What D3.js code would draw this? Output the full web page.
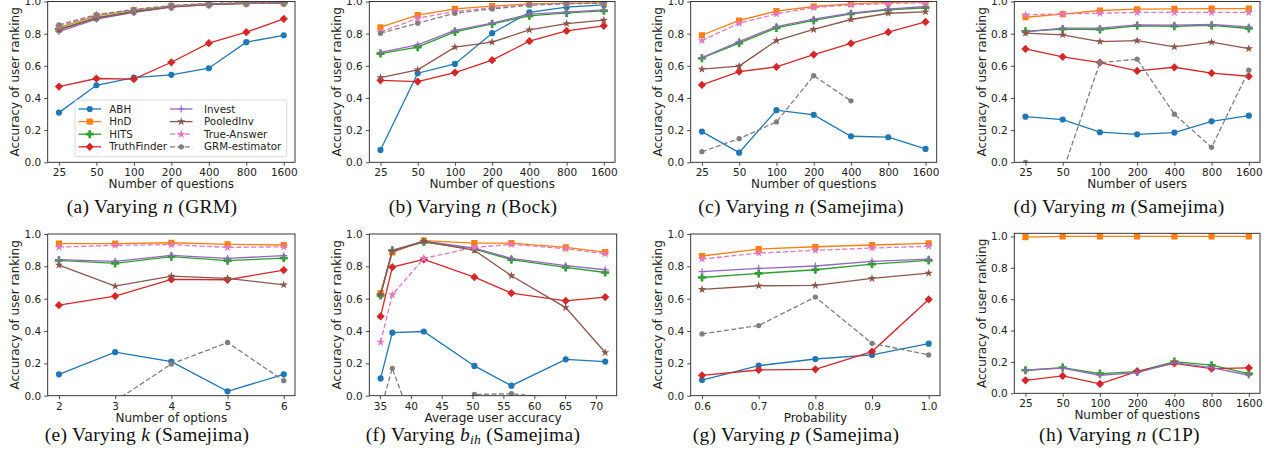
<!DOCTYPE html>
<html>
<head>
<meta charset="utf-8">
<script src="https://cdn.jsdelivr.net/npm/d3@7.9.0/dist/d3.min.js"></script>
<style>
  body { margin: 0; background: #fff; }
  svg { display: block; }
</style>
</head>
<body>
<svg id="chart" width="1276" height="461"></svg>
<script>
// methods, drawn in this order
const methods = ['ABH', 'HnD', 'HITS', 'TruthFinder', 'Invest', 'PooledInv', 'True-Answer', 'GRM-estimator'];
const methodColors = ['#1f77b4', '#ff7f0e', '#2ca02c', '#d62728', '#9467bd', '#8c564b', '#e377c2', '#7f7f7f'];

// x values / tick labels
const nTicks = ['25', '50', '100', '200', '400', '800', '1600'];
const kTicks = [2, 3, 4, 5, 6];
const biasX = [35.1, 37.0, 42.1, 50.3, 56.3, 65.1, 71.5];
const biasTicks = [35, 40, 45, 50, 55, 60, 65, 70];
const probX = [0.6, 0.7, 0.8, 0.9, 1.0];
const yTicks = [0, 0.2, 0.4, 0.6, 0.8, 1.0];

// series values, one row per method (same order as `methods`), null = not drawn
const valsGRM = [
  [0.309, 0.479, 0.527, 0.544, 0.585, 0.747, 0.790],
  [0.838, 0.911, 0.946, 0.971, 0.985, 0.990, 0.992],
  [0.828, 0.900, 0.938, 0.968, 0.982, 0.989, 0.991],
  [0.471, 0.521, 0.517, 0.622, 0.741, 0.809, 0.892],
  [0.813, 0.890, 0.932, 0.965, 0.980, 0.988, 0.990],
  [0.824, 0.897, 0.936, 0.967, 0.981, 0.989, 0.991],
  [0.845, 0.915, 0.948, 0.972, 0.986, 0.991, 0.993],
  [0.855, 0.918, 0.950, 0.975, 0.988, 0.992, 0.994]
];
const valsBock = [
  [0.077, 0.554, 0.612, 0.803, 0.932, 0.965, 0.979],
  [0.840, 0.915, 0.954, 0.971, 0.985, 0.990, 0.992],
  [0.676, 0.716, 0.811, 0.861, 0.911, 0.929, 0.942],
  [0.510, 0.502, 0.558, 0.635, 0.753, 0.817, 0.849],
  [0.683, 0.730, 0.820, 0.865, 0.921, 0.934, 0.948],
  [0.527, 0.575, 0.716, 0.747, 0.824, 0.863, 0.884],
  [0.810, 0.896, 0.938, 0.960, 0.980, 0.988, 0.990],
  [0.803, 0.865, 0.927, 0.954, 0.977, 0.986, 0.990]
];
const valsSameN = [
  [0.191, 0.060, 0.324, 0.295, 0.162, 0.156, 0.083],
  [0.790, 0.882, 0.940, 0.969, 0.985, 0.994, 0.998],
  [0.647, 0.741, 0.836, 0.882, 0.923, 0.948, 0.961],
  [0.481, 0.564, 0.593, 0.670, 0.739, 0.809, 0.873],
  [0.651, 0.751, 0.844, 0.890, 0.927, 0.952, 0.969],
  [0.579, 0.598, 0.757, 0.826, 0.888, 0.927, 0.936],
  [0.757, 0.865, 0.923, 0.963, 0.979, 0.988, 0.992],
  [0.066, 0.147, 0.251, 0.539, 0.382, null, null]
];
const valsSameM = [
  [0.284, 0.266, 0.187, 0.174, 0.185, 0.255, 0.290],
  [0.902, 0.921, 0.944, 0.952, 0.954, 0.956, 0.956],
  [0.815, 0.828, 0.826, 0.849, 0.846, 0.851, 0.832],
  [0.705, 0.656, 0.620, 0.568, 0.591, 0.554, 0.535],
  [0.811, 0.834, 0.834, 0.855, 0.853, 0.857, 0.842],
  [0.803, 0.793, 0.751, 0.757, 0.718, 0.747, 0.707],
  [0.917, 0.923, 0.927, 0.932, 0.932, 0.932, 0.932],
  [0.000, -0.060, 0.620, 0.641, 0.299, 0.093, 0.573]
];
const valsSameK = [
  [0.132, 0.269, 0.211, 0.027, 0.132],
  [0.940, 0.940, 0.946, 0.936, 0.932],
  [0.837, 0.818, 0.860, 0.835, 0.851],
  [0.560, 0.616, 0.719, 0.717, 0.777],
  [0.841, 0.831, 0.868, 0.849, 0.866],
  [0.808, 0.678, 0.740, 0.725, 0.686],
  [0.919, 0.930, 0.934, 0.917, 0.921],
  [null, -0.034, 0.196, 0.329, 0.093]
];
const valsSameB = [
  [0.107, 0.390, 0.397, 0.184, 0.062, 0.225, 0.211],
  [0.634, 0.886, 0.959, 0.944, 0.944, 0.917, 0.888],
  [0.620, 0.899, 0.950, 0.907, 0.841, 0.793, 0.762],
  [0.490, 0.795, 0.843, 0.733, 0.634, 0.587, 0.610],
  [0.628, 0.900, 0.955, 0.913, 0.849, 0.804, 0.779],
  [0.625, 0.893, 0.955, 0.899, 0.742, 0.545, 0.267],
  [0.331, 0.624, 0.849, 0.917, 0.936, 0.909, 0.878],
  [-0.087, 0.169, -0.360, 0.008, 0.012, -0.020, -0.050]
];
const valsSameP = [
  [0.097, 0.186, 0.227, 0.252, 0.322],
  [0.864, 0.907, 0.921, 0.932, 0.942],
  [0.731, 0.756, 0.779, 0.814, 0.837],
  [0.126, 0.159, 0.163, 0.273, 0.595],
  [0.767, 0.787, 0.802, 0.831, 0.845],
  [0.657, 0.680, 0.682, 0.725, 0.758],
  [0.845, 0.882, 0.899, 0.913, 0.924],
  [0.382, 0.434, 0.610, 0.324, 0.252]
];
const valsC1P = [
  [null, null, null, null, null, null, null],
  [0.996, 1.000, 1.000, 1.000, 1.000, 1.000, 1.000],
  [0.147, 0.164, 0.126, 0.138, 0.202, 0.179, 0.126],
  [0.083, 0.111, 0.060, 0.140, 0.191, 0.157, 0.162],
  [0.147, 0.160, 0.115, 0.132, 0.196, 0.164, 0.115],
  [null, null, null, null, null, null, null],
  [null, null, null, null, null, null, null],
  [null, null, null, null, null, null, null]
];

const SANS = "'DejaVu Sans', sans-serif";
const SERIF = "'Liberation Serif', 'Times New Roman', serif";

// panel table built from the arrays above
const nIdx = nTicks.map((d, i) => i);
const panels = [
  { vals: valsGRM,   xs: nIdx, ticks: nIdx, tickFmt: i => nTicks[i], xdom: [-0.3, 6.3], xlabel: 'Number of questions',
    box: [47.7, 295, 1.5, 162.3], cap: ['(a) Varying ', 'n', ' (GRM)'], capX: 152, capY: 212.5, legend: true },
  { vals: valsBock,  xs: nIdx, ticks: nIdx, tickFmt: i => nTicks[i], xdom: [-0.3, 6.3], xlabel: 'Number of questions',
    box: [369.3, 615, 1.5, 162.3], cap: ['(b) Varying ', 'n', ' (Bock)'], capX: 473, capY: 212.5 },
  { vals: valsSameN, xs: nIdx, ticks: nIdx, tickFmt: i => nTicks[i], xdom: [-0.3, 6.3], xlabel: 'Number of questions',
    box: [690.7, 936.7, 1.5, 162.3], cap: ['(c) Varying ', 'n', ' (Samejima)'], capX: 801, capY: 212.5 },
  { vals: valsSameM, xs: nIdx, ticks: nIdx, tickFmt: i => nTicks[i], xdom: [-0.3, 6.3], xlabel: 'Number of users',
    box: [1014.3, 1260, 1.5, 162.3], cap: ['(d) Varying ', 'm', ' (Samejima)'], capX: 1119, capY: 212.5 },
  { vals: valsSameK, xs: kTicks, ticks: kTicks, tickFmt: d => d, xdom: [1.8, 6.2], xlabel: 'Number of options',
    box: [47.7, 295, 234, 395.7], cap: ['(e) Varying ', 'k', ' (Samejima)'], capX: 147, capY: 440.5 },
  { vals: valsSameB, xs: biasX, ticks: biasTicks, tickFmt: d => d, xdom: [33.27, 73.36], xlabel: 'Average user accuracy',
    box: [369.3, 616.7, 234, 395.7], cap: ['(f) Varying ', 'b', ' (Samejima)'], sub: 'ih', capX: 473, capY: 440.5 },
  { vals: valsSameP, xs: probX, ticks: probX, tickFmt: d3.format('.1f'), xdom: [0.58, 1.02], xlabel: 'Probability',
    box: [690.7, 940, 234, 395.7], cap: ['(g) Varying ', 'p', ' (Samejima)'], capX: 796, capY: 440.5 },
  { vals: valsC1P,   xs: nIdx, ticks: nIdx, tickFmt: i => nTicks[i], xdom: [-0.3, 6.3], xlabel: 'Number of questions',
    box: [1014.3, 1260, 233.3, 393.3], ymax: 1.02, cap: ['(h) Varying ', 'n', ' (C1P)'], capX: 1119.5, capY: 440.5 }
];

const svg = d3.select('#chart');

// marker drawers
function drawMarker(g, m, color) {
  const s = g.append('path').attr('fill', color);
  switch (m) {
    case 'ABH': s.attr('d', d3.symbol(d3.symbolCircle, 30)()); break;
    case 'HnD': s.attr('d', d3.symbol(d3.symbolSquare, 38)()); break;
    case 'HITS': s.attr('d', d3.symbol(d3.symbolCross, 36)()); break;
    case 'TruthFinder': s.attr('d', d3.symbol(d3.symbolSquare, 34)()).attr('transform', 'rotate(45)'); break;
    case 'Invest': s.attr('d', 'M-3.5,0H3.5M0,-3.5V3.5').attr('fill', 'none').attr('stroke', color).attr('stroke-width', 1.2); break;
    case 'PooledInv': s.attr('d', d3.symbol(d3.symbolStar, 22)()); break;
    case 'True-Answer': s.attr('d', d3.symbol(d3.symbolStar, 24)()); break;
    default: s.attr('d', d3.symbol(d3.symbolCircle, 22)());
  }
}

panels.forEach((p, pi) => {
  const [x0, x1, y0, y1] = p.box;
  const x = d3.scaleLinear().domain(p.xdom).range([x0, x1]);
  const y = d3.scaleLinear().domain([0, p.ymax || 1.0]).range([y1, y0]);
  const g = svg.append('g');

  const clipId = 'clip' + pi;
  svg.append('clipPath').attr('id', clipId)
    .append('rect').attr('x', x0).attr('y', y0).attr('width', x1 - x0).attr('height', y1 - y0);

  // axes
  const xAxis = g.append('g').attr('transform', `translate(0,${y1})`)
    .call(d3.axisBottom(x).tickValues(p.ticks).tickFormat(p.tickFmt).tickSize(3.5).tickPadding(3));
  const yAxis = g.append('g').attr('transform', `translate(${x0},0)`)
    .call(d3.axisLeft(y).tickValues(yTicks).tickFormat(d3.format('.1f')).tickSize(3.5).tickPadding(3));
  [xAxis, yAxis].forEach(a => {
    a.attr('font-family', null).attr('font-size', null);
    a.select('.domain').remove();
    a.selectAll('line').attr('stroke', '#222').attr('stroke-width', 0.8);
    a.selectAll('text').attr('fill', '#222').style('font-family', SANS).style('font-size', '10.5px');
  });

  const plot = g.append('g').attr('clip-path', `url(#${clipId})`);
  p.vals.forEach((series, mi) => {
    const m = methods[mi], col = methodColors[mi];
    const pts = series.map((v, i) => ({ x: p.xs[i], y: v })).filter(d => d.y != null);
    if (!pts.length) return;
    const dashed = m === 'True-Answer' || m === 'GRM-estimator';
    plot.append('path')
      .datum(pts)
      .attr('d', d3.line().x(d => x(d.x)).y(d => y(d.y)))
      .attr('fill', 'none').attr('stroke', col).attr('stroke-width', 1.3)
      .attr('stroke-dasharray', dashed ? '5,2.4' : null);
    pts.forEach(d => {
      const mg = plot.append('g').attr('transform', `translate(${x(d.x)},${y(d.y)})`);
      drawMarker(mg, m, col);
    });
  });

  // frame
  g.append('rect').attr('x', x0).attr('y', y0).attr('width', x1 - x0).attr('height', y1 - y0)
    .attr('fill', 'none').attr('stroke', '#222').attr('stroke-width', 0.9);

  // axis labels
  g.append('text').attr('x', (x0 + x1) / 2).attr('y', y1 + 25.8)
    .attr('text-anchor', 'middle').attr('fill', '#222')
    .style('font-family', SANS).style('font-size', '12px').text(p.xlabel);
  g.append('text').attr('transform', `translate(${x0 - 28.5},${(y0 + y1) / 2}) rotate(-90)`)
    .attr('text-anchor', 'middle').attr('fill', '#222')
    .style('font-family', SANS).style('font-size', '12px').text('Accuracy of user ranking');

  // caption
  const cap = g.append('text').attr('x', p.capX).attr('y', p.capY)
    .attr('text-anchor', 'middle').attr('fill', '#111')
    .style('font-family', SERIF).style('font-size', '19.5px').style('letter-spacing', '0.3px');
  cap.append('tspan').text(p.cap[0]);
  cap.append('tspan').style('font-style', 'italic').text(p.cap[1]);
  if (p.sub) {
    cap.append('tspan').style('font-style', 'italic').style('font-size', '13.5px').attr('dy', 3.5).text(p.sub);
    cap.append('tspan').attr('dy', -3.5).text(p.cap[2]);
  } else {
    cap.append('tspan').text(p.cap[2]);
  }

  if (p.legend) {
    const lg = g.append('g');
    lg.append('rect').attr('x', 75).attr('y', 100).attr('width', 211.7).attr('height', 56.7)
      .attr('rx', 2).attr('fill', '#fff').attr('fill-opacity', 0.8)
      .attr('stroke', '#d0d0d0').attr('stroke-width', 0.8);
    methods.forEach((m, mi) => {
      const col = Math.floor(mi / 4), row = mi % 4;
      const hx = col === 0 ? 78.5 : 170, tx = col === 0 ? 109.3 : 204;
      const ry = 109 + row * 12.6;
      const dashed = m === 'True-Answer' || m === 'GRM-estimator';
      lg.append('line').attr('x1', hx).attr('x2', hx + 22.5).attr('y1', ry).attr('y2', ry)
        .attr('stroke', methodColors[mi]).attr('stroke-width', 1.3)
        .attr('stroke-dasharray', dashed ? '5,2.4' : null);
      drawMarker(lg.append('g').attr('transform', `translate(${hx + 11.25},${ry})`), m, methodColors[mi]);
      lg.append('text').attr('x', tx).attr('y', ry + 3.6).attr('fill', '#222')
        .style('font-family', SANS).style('font-size', '10.3px').text(m);
    });
  }
});
</script>
</body>
</html>
